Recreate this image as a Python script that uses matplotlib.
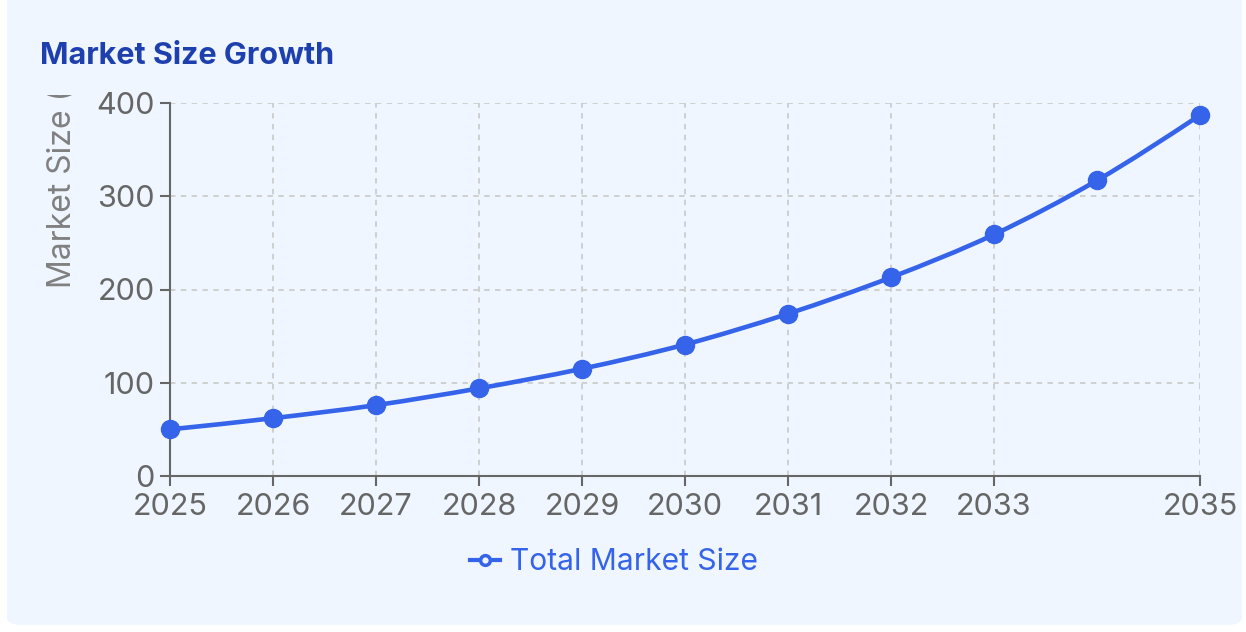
import numpy as np
import matplotlib.pyplot as plt
from matplotlib.patches import FancyBboxPatch, PathPatch
from matplotlib.path import Path
from matplotlib.lines import Line2D
from matplotlib.transforms import Bbox, TransformedBbox

plt.rcParams['font.family'] = ['Inter', 'DejaVu Sans']

## Données
years = [2025, 2026, 2027, 2028, 2029, 2030, 2031, 2032, 2033, 2034, 2035]
market_size = [50, 62, 76, 94, 115, 141, 174, 213, 259, 317, 387]
x_ticks = [2025, 2026, 2027, 2028, 2029, 2030, 2031, 2032, 2033, 2035]
y_ticks = [0, 100, 200, 300, 400]

BLUE = '#3563E9'
W, H = 1246, 632


def monotone_path(x, y):
    # courbe monotone (comme d3 curveMonotoneX)
    x = np.asarray(x, float); y = np.asarray(y, float)
    h = np.diff(x); s = np.diff(y) / h
    n = len(x)
    t = np.zeros(n)
    for i in range(1, n - 1):
        if s[i - 1] * s[i] <= 0:
            t[i] = 0
        else:
            p = (s[i - 1] * h[i] + s[i] * h[i - 1]) / (h[i - 1] + h[i])
            t[i] = (np.sign(s[i - 1]) + np.sign(s[i])) * min(abs(s[i - 1]), abs(s[i]), 0.5 * abs(p))
    t[0] = (3 * s[0] - t[1]) / 2 if n > 2 else s[0]
    t[-1] = (3 * s[-1] - t[-2]) / 2 if n > 2 else s[-1]
    verts = [(x[0], y[0])]
    codes = [Path.MOVETO]
    for i in range(n - 1):
        dx = h[i] / 3
        verts += [(x[i] + dx, y[i] + dx * t[i]), (x[i + 1] - dx, y[i + 1] - dx * t[i + 1]), (x[i + 1], y[i + 1])]
        codes += [Path.CURVE4] * 3
    return Path(verts, codes)


fig = plt.figure(figsize=(W / 100, H / 100), dpi=100, facecolor='white')

card = FancyBboxPatch((7 / W, 7 / H), 1235 / W, 640 / H, boxstyle='round,pad=0,rounding_size=0.012',
                      transform=fig.transFigure, facecolor='#EFF6FF', edgecolor='none', zorder=-10)
fig.patches.append(card)

fig.text(40 / W, 1 - 56 / H, 'Market Size Growth', fontsize=22, fontweight='bold', color='#1E40AF',
         ha='left', va='center')

ax = fig.add_axes([170 / W, 1 - 476 / H, 1030 / W, 373 / H])
ax.set_facecolor('none')
ax.set_xlim(2025, 2035)
ax.set_ylim(0, 400)
ax.set_xticks(x_ticks)
ax.set_yticks(y_ticks)
ax.tick_params(colors='#666666', labelsize=22, length=7, width=1.5)
ax.tick_params(axis='x', pad=5)
ax.tick_params(axis='y', pad=4)
for sp in ['top', 'right']:
    ax.spines[sp].set_visible(False)
for sp in ['left', 'bottom']:
    ax.spines[sp].set_color('#666666')
    ax.spines[sp].set_linewidth(1.5)
ax.grid(True, color='#cccccc', linestyle=(0, (3, 3)), linewidth=1.3)
ax.set_axisbelow(True)

ax.add_patch(PathPatch(monotone_path(years, market_size), facecolor='none', edgecolor=BLUE,
                       linewidth=3.3, capstyle='round', joinstyle='round', zorder=3, clip_on=False))
ax.plot(years, market_size, linestyle='none', marker='o', markersize=13, color=BLUE, zorder=4, clip_on=False)

ylab = fig.text(62 / W, 1 - 288 / H, 'Market Size ($B)', fontsize=23, color='#808080', rotation=90,
                rotation_mode='anchor', ha='left', va='center')
ylab.set_clip_on(True)
ylab.set_clip_box(TransformedBbox(Bbox.from_extents(0, 0, 1, 1 - 95 / H), fig.transFigure))

handle = Line2D([], [], color=BLUE, linewidth=3, marker='o', markersize=7, markerfacecolor='#EFF6FF',
                markeredgewidth=2.5)
fig.legend([handle], ['Total Market Size'], loc='center', bbox_to_anchor=(614 / W, 1 - 562 / H),
           frameon=False, fontsize=21.6, labelcolor=BLUE, handlelength=1.0, handletextpad=0.35)

fig.savefig('out.png', dpi=100, facecolor='white')
